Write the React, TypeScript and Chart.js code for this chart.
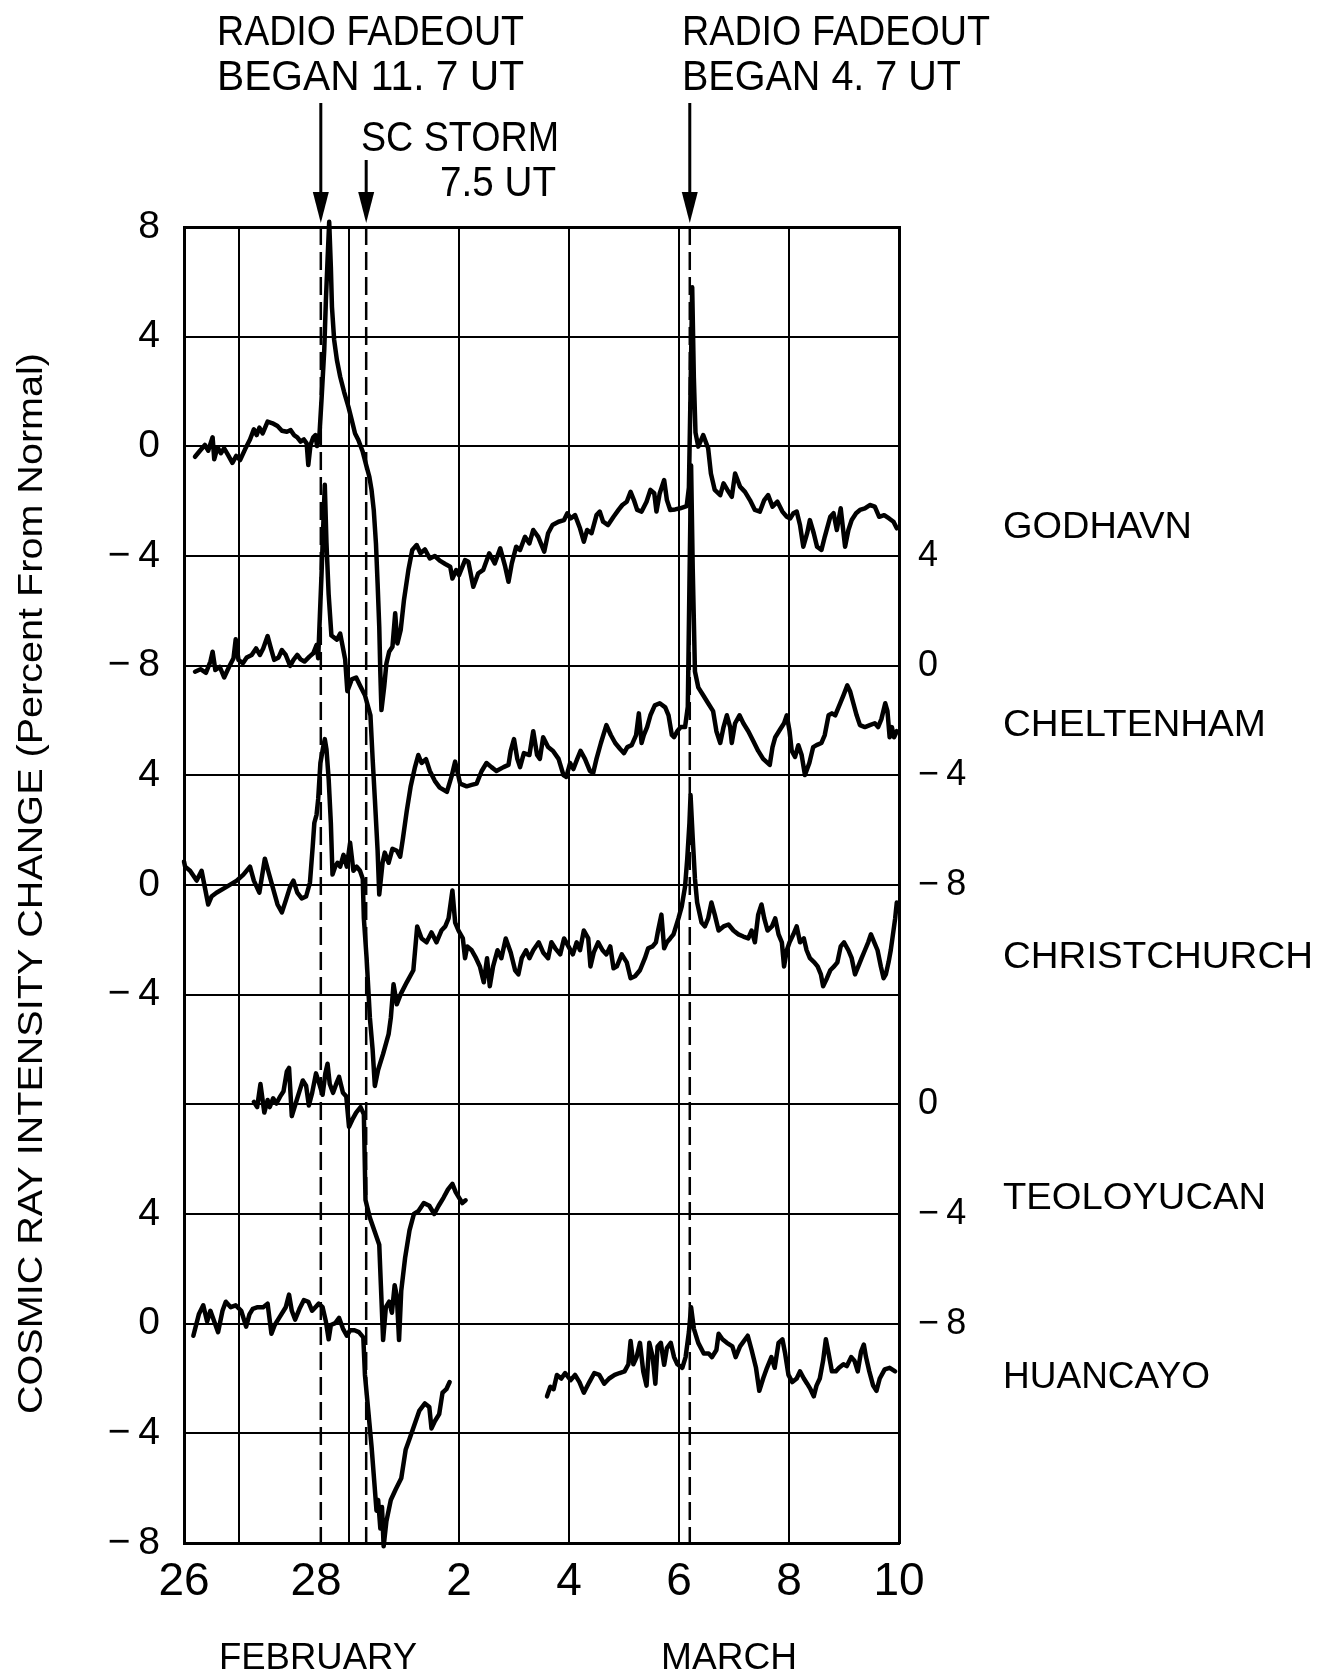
import React, { useEffect, useRef } from 'react';
import { Chart, registerables } from 'chart.js';
Chart.register(...registerables);

// ---------- DATA (x = days since 26 Feb 00 UT, 1956 leap year; y = percent from normal) ----------
const X_TICK_DAYS = [0, 2.4, 5, 7, 9, 11, 13];
const X_TICK_LABELS = ['26', '28', '2', '4', '6', '8', '10'];
const X_GRID_DAYS = [1, 3, 5, 7, 9, 11];
const LEFT_TICK_LABELS = ['8', '4', '0', '\u2212\u20094', '\u2212\u20098', '4', '0', '\u2212\u20094', '', '4', '0', '\u2212\u20094', '\u2212\u20098'];
const RIGHT_TICK_LABELS = ['', '', '', '4', '0', '\u2212\u20094', '\u2212\u20098', '', '0', '\u2212\u20094', '\u2212\u20098', '', ''];
const STATION_NAMES = ['GODHAVN', 'CHELTENHAM', 'CHRISTCHURCH', 'TEOLOYUCAN', 'HUANCAYO'];
const STATION_ZERO_ROW = [2, 4, 6, 8, 10];
const EVENT_DAYS = [2.4875, 3.3125, 9.196];
const EVENT_TEXT = [['RADIO FADEOUT', 'BEGAN 11. 7 UT'], ['SC STORM', '7.5 UT'], ['RADIO FADEOUT', 'BEGAN 4. 7 UT']];
const MONTH_LABELS = ['FEBRUARY', 'MARCH'];
const Y_TITLE = 'COSMIC RAY INTENSITY CHANGE (Percent From Normal)';

const GODHAVN: number[][] = [
  [0.20,-0.38],[0.29,-0.16],[0.38,0.05],[0.44,-0.16],[0.52,0.33],[0.55,-0.47],[0.61,-0.04],[0.67,-0.25],[0.73,-0.07],[0.81,-0.35],[0.88,-0.60],[0.95,-0.35],[1.02,-0.50],[1.11,-0.11],[1.20,0.25],[1.27,0.62],[1.32,0.41],[1.37,0.68],[1.43,0.47],[1.52,0.90],[1.61,0.84],[1.70,0.74],[1.78,0.57],[1.87,0.53],[1.94,0.59],[2.00,0.41],[2.06,0.33],[2.12,0.17],[2.18,0.25],[2.23,0.11],[2.26,-0.68],[2.30,0.05],[2.35,0.33],[2.39,0.41],[2.42,0.01],[2.46,0.33],
  [2.50,1.69],[2.55,3.51],[2.58,5.33],[2.61,6.79],[2.64,8.19],[2.67,6.55],[2.69,5.09],[2.73,3.88],[2.78,3.15],[2.84,2.54],[2.91,1.99],[2.99,1.44],[3.05,0.96],[3.11,0.47],[3.17,0.23],[3.25,-0.20],[3.32,-0.74],[3.37,-1.11],[3.41,-1.59],[3.45,-2.32],[3.49,-3.54],[3.52,-5.00],[3.55,-6.58],[3.57,-8.28],[3.59,-9.62],[3.64,-8.77],[3.68,-7.92],[3.73,-7.49],[3.79,-7.31],[3.84,-6.09],[3.88,-7.19],[3.94,-6.70],[4.00,-5.60],[4.08,-4.51],[4.15,-3.78],[4.23,-3.60],[4.30,-3.90],[4.38,-3.76],[4.47,-4.09],[4.56,-4.00],[4.65,-4.17],[4.75,-4.29],[4.84,-4.39],
  [4.88,-4.82],[4.95,-4.51],[5.00,-4.70],[5.11,-4.15],[5.17,-4.21],[5.26,-5.12],[5.35,-4.63],[5.44,-4.51],[5.55,-3.90],[5.65,-4.27],[5.75,-3.72],[5.84,-4.39],[5.90,-4.94],[5.96,-4.27],[6.04,-3.66],[6.11,-3.78],[6.20,-3.30],[6.28,-3.54],[6.35,-3.05],[6.44,-3.30],[6.55,-3.84],[6.62,-3.17],[6.70,-2.87],[6.81,-2.75],[6.91,-2.69],[6.97,-2.44],[7.03,-2.63],[7.11,-2.51],[7.20,-2.99],[7.27,-3.48],[7.33,-3.05],[7.41,-3.17],[7.50,-2.51],[7.56,-2.38],[7.62,-2.75],[7.71,-2.87],[7.81,-2.57],[7.90,-2.32],[7.97,-2.14],[8.05,-2.02],[8.12,-1.66],[8.18,-1.96],[8.24,-2.32],[8.32,-2.38],[8.41,-2.02],[8.48,-1.59],[8.55,-1.71],[8.59,-2.38],[8.65,-1.71],[8.73,-1.23],[8.78,-1.96],[8.84,-2.32],[8.93,-2.30],[9.02,-2.26],[9.14,-2.18],
  [9.18,-1.5],[9.21,2.0],[9.24,5.8],[9.27,2.5],[9.30,0.5],[9.35,-0.01],[9.44,0.41],[9.53,-0.07],[9.58,-0.99],[9.65,-1.59],[9.75,-1.78],[9.81,-1.35],[9.88,-1.59],[9.96,-1.84],[10.02,-0.99],[10.11,-1.47],[10.20,-1.66],[10.29,-1.96],[10.38,-2.32],[10.47,-2.38],[10.55,-1.96],[10.62,-1.78],[10.70,-2.20],[10.79,-2.02],[10.88,-2.38],[10.96,-2.57],[11.02,-2.63],[11.08,-2.44],[11.14,-2.38],[11.20,-2.87],[11.26,-3.66],[11.33,-3.17],[11.38,-2.69],[11.45,-3.17],[11.51,-3.66],[11.59,-3.78],[11.65,-3.30],[11.75,-2.57],[11.81,-2.44],[11.87,-3.05],[11.94,-2.26],[12.02,-3.66],[12.08,-3.05],[12.14,-2.69],[12.22,-2.44],[12.29,-2.32],[12.38,-2.26],[12.47,-2.14],[12.56,-2.20],[12.64,-2.57],[12.73,-2.51],[12.82,-2.63],[12.90,-2.75],[12.96,-2.99],
];

const CHELTENHAM: number[][] = [
  [0.20,-0.22],[0.30,-0.13],[0.40,-0.26],[0.48,0.15],[0.52,0.51],[0.57,-0.16],[0.65,-0.04],[0.73,-0.43],[0.82,-0.04],[0.90,0.27],[0.94,0.96],[0.99,0.21],[1.07,0.09],[1.14,0.30],[1.23,0.39],[1.31,0.63],[1.38,0.39],[1.44,0.63],[1.52,1.08],[1.58,0.63],[1.64,0.21],[1.72,0.30],[1.78,0.57],[1.85,0.39],[1.93,-0.01],[1.99,0.21],[2.06,0.39],[2.12,0.23],[2.19,0.15],[2.28,0.33],[2.35,0.45],[2.41,0.75],[2.44,0.27],
  [2.47,1.8],[2.50,3.3],[2.53,5.0],[2.56,6.6],[2.59,4.5],[2.63,2.6],[2.68,1.1],[2.78,0.95],[2.84,1.17],[2.93,0.23],[2.97,-0.93],[3.05,-0.50],[3.13,-0.43],[3.20,-0.72],[3.29,-1.08],[3.35,-1.52],[3.39,-1.81],[3.43,-3.41],[3.47,-4.86],[3.52,-6.75],[3.55,-8.35],[3.58,-7.77],[3.61,-7.19],[3.65,-6.82],[3.72,-7.19],[3.79,-6.68],[3.87,-6.75],[3.93,-6.97],[3.98,-6.31],[4.05,-5.30],[4.12,-4.42],[4.20,-3.70],[4.26,-3.26],[4.32,-3.55],[4.40,-3.41],[4.47,-3.84],[4.56,-4.20],[4.65,-4.45],[4.78,-4.6],[4.87,-4.0],[4.93,-3.5],[5.02,-4.3],[5.14,-4.4],[5.23,-4.35],[5.32,-4.3],[5.41,-3.85],[5.50,-3.55],[5.59,-3.70],[5.68,-3.84],[5.81,-3.70],[5.90,-3.62],[5.94,-3.11],[6.00,-2.68],[6.06,-3.40],[6.11,-3.70],[6.18,-3.19],[6.28,-3.26],[6.35,-2.39],[6.42,-3.26],[6.47,-3.40],[6.53,-2.61],[6.62,-2.97],[6.71,-3.11],[6.81,-3.40],[6.90,-3.99],[6.95,-4.06],[7.02,-3.55],[7.08,-3.77],[7.15,-3.40],[7.21,-3.11],[7.29,-3.40],[7.38,-3.84],[7.44,-3.91],[7.50,-3.40],[7.58,-2.82],[7.68,-2.17],[7.76,-2.53],[7.84,-2.82],[7.93,-3.04],[8.00,-3.19],[8.06,-2.97],[8.14,-2.90],[8.22,-2.53],[8.27,-1.74],[8.32,-2.82],[8.36,-2.53],[8.42,-2.24],[8.48,-1.81],[8.56,-1.45],[8.65,-1.37],[8.75,-1.52],[8.81,-1.81],[8.87,-2.53],[8.91,-2.61],[8.97,-2.39],[9.03,-2.24],[9.11,-2.24],
  [9.16,-1.5],[9.19,3.0],[9.22,7.3],[9.25,3.5],[9.29,-0.21],[9.35,-0.79],[9.44,-1.08],[9.53,-1.37],[9.62,-1.66],[9.68,-2.39],[9.75,-2.82],[9.81,-2.24],[9.87,-1.81],[9.93,-2.24],[9.96,-2.82],[10.02,-2.10],[10.10,-1.81],[10.17,-2.10],[10.26,-2.39],[10.35,-2.75],[10.44,-3.11],[10.53,-3.40],[10.65,-3.62],[10.70,-2.97],[10.75,-2.61],[10.84,-2.32],[10.91,-2.10],[10.96,-1.81],[11.01,-2.39],[11.05,-3.11],[11.11,-3.33],[11.17,-2.90],[11.23,-3.26],[11.29,-3.99],[11.37,-3.55],[11.44,-2.97],[11.50,-2.90],[11.59,-2.82],[11.65,-2.53],[11.72,-1.81],[11.78,-1.74],[11.84,-1.81],[11.90,-1.52],[11.99,-1.08],[12.06,-0.72],[12.11,-0.93],[12.17,-1.37],[12.23,-1.81],[12.29,-2.17],[12.38,-2.24],[12.47,-2.17],[12.56,-2.10],[12.62,-2.24],[12.68,-1.95],[12.75,-1.37],[12.79,-1.66],[12.83,-2.61],[12.87,-2.24],[12.91,-2.61],[12.96,-2.39],
];

const CHRISTCHURCH: number[][] = [
  [0.00,0.86],[0.02,0.67],[0.11,0.52],[0.23,0.16],[0.32,0.52],[0.44,-0.71],[0.50,-0.42],[0.59,-0.28],[0.78,-0.06],[0.96,0.16],[1.08,0.38],[1.20,0.67],[1.27,0.16],[1.37,-0.28],[1.47,0.96],[1.53,0.52],[1.61,-0.06],[1.70,-0.71],[1.78,-1.00],[1.85,-0.57],[1.93,-0.06],[1.99,0.16],[2.06,-0.28],[2.14,-0.49],[2.22,-0.42],[2.29,0.09],[2.34,1.40],[2.37,2.27],[2.41,2.56],[2.44,3.14],[2.48,4.45],[2.53,5.03],[2.56,5.32],[2.59,4.96],[2.63,3.87],[2.67,2.27],[2.70,0.38],[2.75,0.67],[2.79,0.81],[2.84,0.67],[2.90,1.10],[2.96,0.67],[3.02,1.54],[3.08,0.52],[3.14,0.67],[3.20,0.52],[3.25,0.23],[3.27,-1.22],[3.32,-2.67],[3.38,-4.85],[3.43,-6.02],[3.47,-7.33],[3.53,-6.74],[3.62,-6.16],[3.72,-5.44],[3.76,-4.85],[3.81,-3.62],[3.87,-4.35],[3.94,-3.98],[4.05,-3.55],[4.17,-3.11],[4.24,-1.51],[4.32,-1.95],[4.41,-2.09],[4.50,-1.73],[4.59,-2.09],[4.68,-1.66],[4.75,-1.51],[4.81,-1.22],[4.88,-0.20],[4.93,-1.37],[4.99,-1.66],[5.07,-1.95],[5.11,-2.67],[5.15,-2.24],[5.23,-2.38],[5.31,-2.67],[5.38,-2.97],[5.45,-3.55],[5.51,-2.67],[5.56,-3.69],[5.62,-2.97],[5.70,-2.38],[5.77,-2.67],[5.85,-1.95],[5.94,-2.46],[6.02,-3.11],[6.08,-3.26],[6.14,-2.67],[6.22,-2.38],[6.28,-2.67],[6.35,-2.38],[6.45,-2.09],[6.53,-2.46],[6.62,-2.67],[6.68,-2.09],[6.75,-2.31],[6.84,-2.53],[6.91,-1.95],[6.99,-2.24],[7.07,-2.53],[7.14,-2.09],[7.20,-2.38],[7.27,-1.66],[7.35,-1.95],[7.39,-2.97],[7.45,-2.46],[7.53,-2.09],[7.61,-2.38],[7.68,-2.53],[7.75,-2.24],[7.81,-3.04],[7.87,-2.97],[7.96,-2.53],[8.05,-2.82],[8.12,-3.40],[8.20,-3.33],[8.29,-3.11],[8.38,-2.67],[8.44,-2.31],[8.52,-2.24],[8.58,-2.09],[8.62,-1.66],[8.68,-1.08],[8.73,-2.31],[8.78,-2.09],[8.84,-1.95],[8.90,-1.80],[8.99,-1.22],[9.05,-0.78],[9.11,-0.06],[9.15,0.96],[9.19,2.27],[9.21,3.28],[9.25,1.69],[9.29,0.23],[9.33,-0.64],[9.41,-1.37],[9.47,-1.51],[9.53,-1.22],[9.59,-0.64],[9.65,-1.08],[9.72,-1.66],[9.81,-1.51],[9.90,-1.44],[9.99,-1.66],[10.08,-1.80],[10.17,-1.88],[10.26,-1.95],[10.32,-1.66],[10.38,-2.09],[10.44,-1.08],[10.50,-0.71],[10.55,-1.22],[10.61,-1.66],[10.69,-1.51],[10.75,-1.22],[10.81,-1.80],[10.87,-2.09],[10.91,-2.97],[10.96,-2.38],[11.01,-2.09],[11.08,-1.80],[11.14,-1.51],[11.20,-2.09],[11.27,-1.95],[11.32,-2.38],[11.38,-2.67],[11.46,-2.82],[11.52,-2.97],[11.58,-3.26],[11.62,-3.69],[11.69,-3.40],[11.75,-3.11],[11.82,-2.97],[11.88,-2.82],[11.94,-2.24],[12.00,-2.09],[12.08,-2.38],[12.14,-2.67],[12.20,-3.26],[12.26,-2.97],[12.32,-2.67],[12.38,-2.38],[12.44,-2.09],[12.49,-1.80],[12.55,-2.09],[12.61,-2.38],[12.67,-2.97],[12.72,-3.40],[12.76,-3.26],[12.81,-2.82],[12.85,-2.38],[12.88,-1.95],[12.93,-1.22],[12.96,-0.64],
];

const TEOLOYUCAN: number[][] = [
  [1.27,0.09],[1.33,-0.10],[1.39,0.74],[1.46,-0.30],[1.52,0.16],[1.56,-0.10],[1.62,0.22],[1.68,0.03],[1.75,0.29],[1.81,0.48],[1.87,1.20],[1.91,1.33],[1.96,-0.43],[2.03,0.03],[2.10,0.48],[2.16,0.87],[2.22,0.68],[2.27,-0.04],[2.33,0.42],[2.40,1.13],[2.45,0.81],[2.52,0.35],[2.57,1.13],[2.61,1.48],[2.65,0.74],[2.71,0.42],[2.78,0.81],[2.82,1.00],[2.89,0.42],[2.95,0.29],[3.00,-0.82],[3.06,-0.56],[3.13,-0.30],[3.21,-0.10],[3.27,-0.36],[3.30,-3.49],[3.38,-4.14],[3.47,-4.66],[3.55,-5.12],[3.58,-6.61],[3.62,-8.6],[3.67,-7.4],[3.73,-7.2],[3.78,-7.6],[3.83,-6.6],[3.87,-7.0],[3.91,-8.6],[3.95,-6.8],[4.02,-5.6],[4.10,-4.6],[4.18,-4.0],[4.26,-3.9],[4.36,-3.6],[4.46,-3.7],[4.55,-4.0],[4.63,-3.7],[4.72,-3.4],[4.80,-3.1],[4.88,-2.9],[4.94,-3.2],[5.00,-3.4],[5.06,-3.6],[5.12,-3.5],
];

const HUANCAYO_FEB: number[][] = [
  [0.17,-0.44],[0.27,0.34],[0.35,0.67],[0.42,0.08],[0.48,0.47],[0.62,-0.31],[0.70,0.47],[0.76,0.80],[0.85,0.60],[0.94,0.67],[1.04,0.47],[1.13,-0.11],[1.19,0.34],[1.25,0.54],[1.34,0.60],[1.44,0.60],[1.52,0.73],[1.59,-0.37],[1.65,-0.05],[1.73,0.21],[1.85,0.60],[1.91,1.06],[1.96,0.47],[2.02,0.15],[2.10,0.54],[2.18,0.86],[2.26,0.80],[2.33,0.47],[2.39,0.60],[2.45,0.73],[2.52,0.60],[2.58,0.08],[2.63,-0.57],[2.67,-0.05],[2.75,0.02],[2.82,0.21],[2.89,-0.18],[2.96,-0.44],[3.02,-0.24],[3.10,-0.24],[3.18,-0.31],[3.26,-0.50],[3.29,-1.87],[3.35,-3.17],[3.41,-4.48],[3.46,-5.78],[3.50,-6.82],[3.53,-6.43],[3.57,-7.47],[3.60,-6.69],[3.63,-8.12],[3.68,-7.21],[3.76,-6.43],[3.85,-6.04],[3.95,-5.64],[4.03,-4.60],[4.10,-4.21],[4.19,-3.69],[4.28,-3.17],[4.38,-2.91],[4.46,-3.04],[4.50,-3.82],[4.56,-3.56],[4.64,-3.30],[4.70,-2.52],[4.77,-2.39],[4.83,-2.13],
];

const HUANCAYO_MAR: number[][] = [
  [6.60,-2.65],[6.66,-2.30],[6.72,-2.39],[6.78,-1.87],[6.86,-2.00],[6.93,-1.80],[7.03,-2.06],[7.11,-1.87],[7.19,-2.13],[7.27,-2.52],[7.37,-2.13],[7.46,-1.80],[7.55,-1.87],[7.64,-2.19],[7.73,-2.00],[7.83,-1.87],[7.92,-1.80],[8.01,-1.74],[8.08,-1.48],[8.12,-0.63],[8.17,-1.48],[8.23,-1.22],[8.29,-0.70],[8.35,-1.74],[8.41,-2.26],[8.46,-0.70],[8.52,-1.20],[8.57,-2.19],[8.61,-0.83],[8.67,-0.70],[8.73,-1.50],[8.78,-0.89],[8.85,-0.70],[8.91,-1.22],[8.97,-1.48],[9.06,-1.61],[9.12,-1.22],[9.18,-0.31],[9.22,0.60],[9.27,-0.18],[9.35,-0.70],[9.45,-1.09],[9.54,-1.09],[9.60,-1.22],[9.68,-0.96],[9.72,-0.37],[9.79,-0.57],[9.87,-0.70],[9.97,-0.83],[10.03,-1.22],[10.11,-0.83],[10.25,-0.44],[10.32,-0.96],[10.40,-1.61],[10.46,-2.45],[10.53,-2.00],[10.60,-1.61],[10.68,-1.22],[10.74,-1.61],[10.81,-0.70],[10.88,-0.57],[10.93,-1.09],[10.99,-1.87],[11.06,-2.13],[11.14,-2.00],[11.20,-1.74],[11.27,-2.00],[11.33,-2.19],[11.39,-2.39],[11.45,-2.65],[11.50,-2.26],[11.56,-2.00],[11.62,-1.35],[11.67,-0.57],[11.72,-1.09],[11.78,-1.74],[11.85,-1.74],[11.91,-1.61],[11.99,-1.48],[12.05,-1.55],[12.13,-1.22],[12.19,-1.35],[12.25,-1.74],[12.31,-1.02],[12.36,-0.76],[12.40,-1.22],[12.46,-1.74],[12.53,-2.26],[12.59,-2.45],[12.65,-2.00],[12.74,-1.67],[12.83,-1.61],[12.93,-1.74],
];

// ---------- LAYOUT ----------
const W = 1331;
const H = 1677;
const PLOT_L = 184;
const PLOT_R = 899;
const PLOT_T = 227;
const PLOT_B = 1543;
const FONT = '"Liberation Sans", Arial, Helvetica, sans-serif';
const ROWS = [0, 1, 2, 3, 4, 5, 6, 7, 8, 9, 10, 11, 12];
const PCT_PER_ROW = 4;

function fitText(ctx: CanvasRenderingContext2D, text: string, x: number, y: number, width: number, size: number, weight = 'normal') {
  ctx.save();
  ctx.font = `${weight} ${size}px ${FONT}`;
  const w = ctx.measureText(text).width;
  ctx.translate(x, y);
  ctx.scale(width / w, 1);
  ctx.textAlign = 'left';
  ctx.textBaseline = 'alphabetic';
  ctx.fillStyle = '#000';
  ctx.fillText(text, 0, 0);
  ctx.restore();
}

const annotPlugin = {
  id: 'annot',
  beforeDatasetsDraw(chart: any) {
    const { ctx, chartArea, scales } = chart;
    ctx.save();
    ctx.strokeStyle = '#000';
    ctx.lineWidth = 2.5;
    ctx.setLineDash([18, 7]);
    EVENT_DAYS.forEach((d) => {
      const x = scales.x.getPixelForValue(d);
      ctx.beginPath();
      ctx.moveTo(x, chartArea.top);
      ctx.lineTo(x, chartArea.bottom);
      ctx.stroke();
    });
    ctx.restore();
  },
  afterDraw(chart: any) {
    const { ctx, scales } = chart;
    // event annotations
    fitText(ctx, EVENT_TEXT[0][0], 217, 45, 307, 42);
    fitText(ctx, EVENT_TEXT[0][1], 217, 90, 307, 42);
    fitText(ctx, EVENT_TEXT[1][0], 361, 151, 198, 42);
    fitText(ctx, EVENT_TEXT[1][1], 440, 196, 116, 42);
    fitText(ctx, EVENT_TEXT[2][0], 682, 45, 308, 42);
    fitText(ctx, EVENT_TEXT[2][1], 682, 90, 279, 42);
    // arrows
    const arrowTops = [103, 160, 103];
    EVENT_DAYS.forEach((d, i) => {
      const x = scales.x.getPixelForValue(d);
      ctx.save();
      ctx.strokeStyle = '#000';
      ctx.fillStyle = '#000';
      ctx.lineWidth = 3;
      ctx.beginPath();
      ctx.moveTo(x, arrowTops[i]);
      ctx.lineTo(x, 200);
      ctx.stroke();
      ctx.beginPath();
      ctx.moveTo(x - 8, 192);
      ctx.lineTo(x + 8, 192);
      ctx.lineTo(x, 223);
      ctx.closePath();
      ctx.fill();
      ctx.restore();
    });
    // station labels
    const labelBase = [538, 736, 968, 1209, 1388];
    const labelW = [189, 263, 310, 263, 207];
    STATION_NAMES.forEach((n, i) => fitText(ctx, n, 1003, labelBase[i], labelW[i], 37));
    // month labels
    fitText(ctx, MONTH_LABELS[0], 219, 1669, 198, 37);
    fitText(ctx, MONTH_LABELS[1], 661, 1669, 136, 37);
    // y title
    ctx.save();
    ctx.translate(42, 884);
    ctx.rotate(-Math.PI / 2);
    fitText(ctx, Y_TITLE, -530, 0, 1061, 35);
    ctx.restore();
  },
};

function series(pts: number[][], row: number) {
  return pts.map(([d, v]) => ({ x: d, y: v - PCT_PER_ROW * row }));
}

export default function App() {
  const ref = useRef<HTMLCanvasElement>(null);
  useEffect(() => {
    const lineStyle = {
      borderColor: '#000',
      borderWidth: 4.5,
      pointRadius: 0,
      tension: 0,
      fill: false,
      clip: false as any,
      borderJoinStyle: 'round' as const,
      borderCapStyle: 'round' as const,
      xAxisID: 'x',
      yAxisID: 'y',
    };
    const sets = [
      { label: STATION_NAMES[0], data: series(GODHAVN, STATION_ZERO_ROW[0]) },
      { label: STATION_NAMES[1], data: series(CHELTENHAM, STATION_ZERO_ROW[1]) },
      { label: STATION_NAMES[2], data: series(CHRISTCHURCH, STATION_ZERO_ROW[2]) },
      { label: STATION_NAMES[3], data: series(TEOLOYUCAN, STATION_ZERO_ROW[3]) },
      { label: STATION_NAMES[4], data: series(HUANCAYO_FEB, STATION_ZERO_ROW[4]) },
      { label: STATION_NAMES[4] + ' ', data: series(HUANCAYO_MAR, STATION_ZERO_ROW[4]) },
    ].map((s) => ({ ...s, ...lineStyle }));

    const yMin = -PCT_PER_ROW * 12;
    const chart = new Chart(ref.current as HTMLCanvasElement, {
      type: 'line',
      data: { datasets: sets as any },
      plugins: [annotPlugin as any],
      options: {
        animation: false,
        responsive: false,
        devicePixelRatio: 1,
        layout: { padding: { top: PLOT_T, left: 0, right: 0, bottom: 0 } },
        plugins: { legend: { display: false }, tooltip: { enabled: false }, title: { display: false } },
        scales: {
          x: {
            type: 'linear',
            position: 'bottom',
            min: 0,
            max: 13,
            afterBuildTicks: (s: any) => { s.ticks = X_TICK_DAYS.map((v) => ({ value: v })); },
            afterFit: (s: any) => { s.height = H - PLOT_B; },
            grid: { display: false, drawTicks: false },
            border: { display: true, color: '#000', width: 3 },
            ticks: {
              autoSkip: false, maxRotation: 0, minRotation: 0, padding: 12, color: '#000',
              font: { family: FONT, size: 46 },
              callback: (_v: any, i: number) => X_TICK_LABELS[i],
            },
          },
          xg: {
            type: 'linear',
            position: 'top',
            min: 0,
            max: 13,
            afterBuildTicks: (s: any) => { s.ticks = X_GRID_DAYS.map((v) => ({ value: v })); },
            afterFit: (s: any) => { s.height = 0; },
            grid: { display: true, color: '#000', lineWidth: 2, drawTicks: false },
            border: { display: true, color: '#000', width: 3 },
            ticks: { display: false },
          },
          y: {
            type: 'linear',
            position: 'left',
            min: yMin,
            max: 0,
            afterBuildTicks: (s: any) => { s.ticks = ROWS.map((r) => ({ value: -PCT_PER_ROW * r })); },
            afterFit: (s: any) => { s.width = PLOT_L; },
            grid: { display: true, color: '#000', lineWidth: 2, drawTicks: false },
            border: { display: true, color: '#000', width: 3 },
            ticks: {
              autoSkip: false, padding: 24, color: '#000',
              font: { family: FONT, size: 39 },
              callback: (v: any) => LEFT_TICK_LABELS[Math.round(-v / PCT_PER_ROW)],
            },
          },
          y2: {
            type: 'linear',
            position: 'right',
            min: yMin,
            max: 0,
            afterBuildTicks: (s: any) => { s.ticks = ROWS.map((r) => ({ value: -PCT_PER_ROW * r })); },
            afterFit: (s: any) => { s.width = W - PLOT_R; },
            grid: { display: false, drawTicks: false },
            border: { display: true, color: '#000', width: 3 },
            ticks: {
              autoSkip: false, padding: 19, color: '#000',
              font: { family: FONT, size: 36 },
              callback: (v: any) => RIGHT_TICK_LABELS[Math.round(-v / PCT_PER_ROW)],
            },
          },
        },
      } as any,
    });
    return () => chart.destroy();
  }, []);

  return (
    <div style={{ position: 'absolute', left: 0, top: 0, width: W, height: H, background: '#fff' }}>
      <canvas ref={ref} width={W} height={H} style={{ display: 'block', width: W, height: H }} />
    </div>
  );
}
